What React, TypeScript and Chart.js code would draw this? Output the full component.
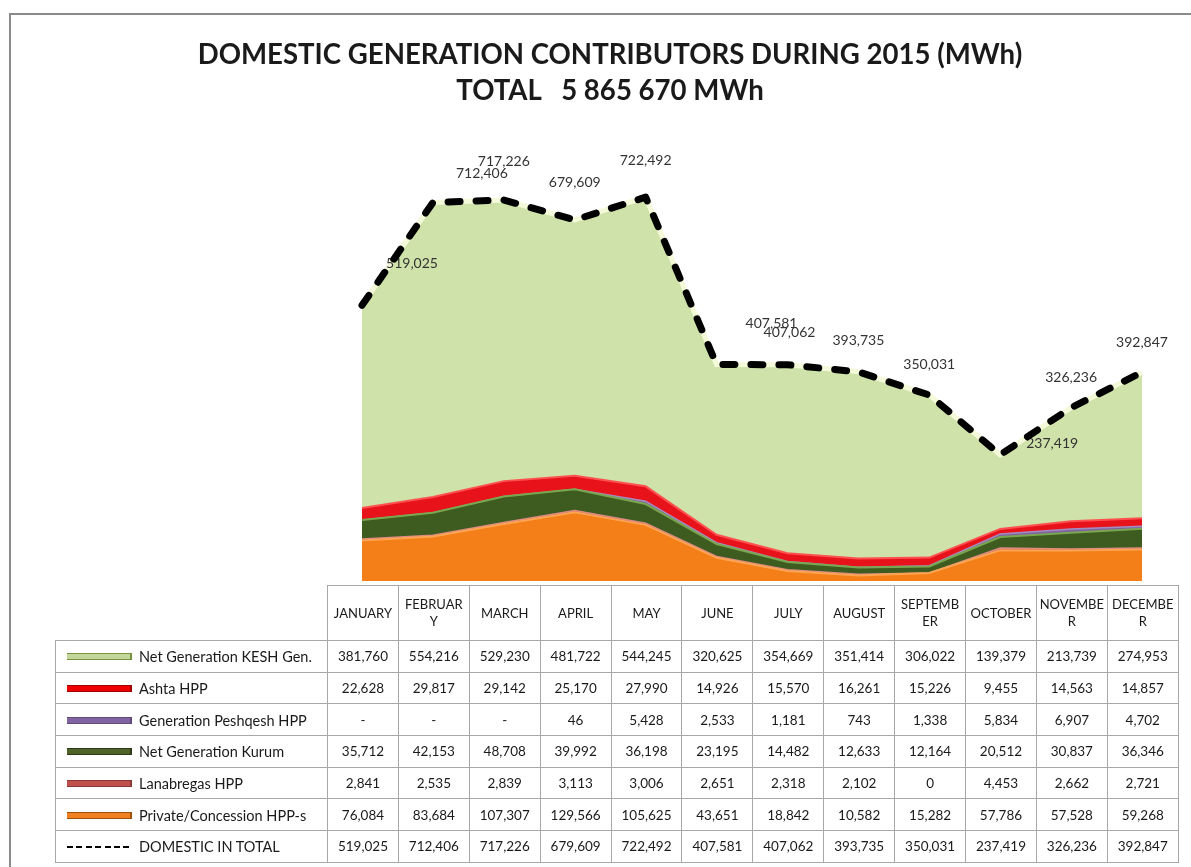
import React, { useEffect, useRef } from "react";
import { Chart, registerables } from "chart.js";
Chart.register(...registerables);

const months = ["JANUARY", "FEBRUARY", "MARCH", "APRIL", "MAY", "JUNE", "JULY", "AUGUST", "SEPTEMBER", "OCTOBER", "NOVEMBER", "DECEMBER"];
const keshGen = [381760, 554216, 529230, 481722, 544245, 320625, 354669, 351414, 306022, 139379, 213739, 274953];
const ashtaHpp = [22628, 29817, 29142, 25170, 27990, 14926, 15570, 16261, 15226, 9455, 14563, 14857];
const peshqeshHpp: (number | null)[] = [null, null, null, 46, 5428, 2533, 1181, 743, 1338, 5834, 6907, 4702];
const kurumGen = [35712, 42153, 48708, 39992, 36198, 23195, 14482, 12633, 12164, 20512, 30837, 36346];
const lanabregasHpp = [2841, 2535, 2839, 3113, 3006, 2651, 2318, 2102, 0, 4453, 2662, 2721];
const privateHpp = [76084, 83684, 107307, 129566, 105625, 43651, 18842, 10582, 15282, 57786, 57528, 59268];
const domesticTotal = [519025, 712406, 717226, 679609, 722492, 407581, 407062, 393735, 350031, 237419, 326236, 392847];

const titleLine1 = "DOMESTIC GENERATION CONTRIBUTORS DURING 2015 (MWh)";
const titleLine2 = "TOTAL   5 865 670 MWh";

// label offsets relative to the plotted point (style only)
const LABEL_SHIFT: [number, number][] = [
  [50, -42], [49, -29], [0, -38], [0, -37], [0, -37], [55, -41],
  [2, -32], [0, -31], [0, -31], [52, -11], [0, -30], [0, -30],
];

const fmt = (v: number | null) => (v === null ? "-" : v.toLocaleString("en-US"));

type KeyStyle = { bg: string; edge: string; dashed?: boolean };
const tableRows: { name: string; values: (number | null)[]; key: KeyStyle }[] = [
  { name: "Net Generation KESH Gen.", values: keshGen, key: { bg: "#c3d69b", edge: "#76923c" } },
  { name: "Ashta HPP", values: ashtaHpp, key: { bg: "#ee0000", edge: "#a00000" } },
  { name: "Generation Peshqesh HPP", values: peshqeshHpp, key: { bg: "#8064a2", edge: "#5f4a7a" } },
  { name: "Net Generation Kurum", values: kurumGen, key: { bg: "#4f6228", edge: "#2f3b18" } },
  { name: "Lanabregas HPP", values: lanabregasHpp, key: { bg: "#c0504d", edge: "#8e3835" } },
  { name: "Private/Concession HPP-s", values: privateHpp, key: { bg: "#f08020", edge: "#a0520a" } },
  { name: "DOMESTIC IN TOTAL", values: domesticTotal, key: { bg: "#000", edge: "#000", dashed: true } },
];

const splitHeader = (m: string) => (m.length > 7 ? [m.slice(0, 7), m.slice(7)] : [m]);

const W = 1191;
const H = 867;
const COL_W = 70.9;
const LABEL_W = 272;
const GRID = "1px solid #a8a8a8";

export default function App() {
  const ref = useRef<HTMLCanvasElement>(null);

  useEffect(() => {
    if (!ref.current) return;
    const labelPlugin = {
      id: "totalLabels",
      afterDatasetDraw(chart: any, args: any) {
        if (args.index !== 1) return;
        const meta = chart.getDatasetMeta(0);
        const ctx = chart.ctx as CanvasRenderingContext2D;
        ctx.save();
        ctx.font = "14px Lato";
        ctx.fillStyle = "#333333";
        ctx.textAlign = "center";
        ctx.textBaseline = "middle";
        meta.data.forEach((pt: any, i: number) => {
          const [dx, dy] = LABEL_SHIFT[i];
          ctx.fillText(fmt(domesticTotal[i]), pt.x + dx, pt.y + dy);
        });
        ctx.restore();
      },
    };

    const area = (label: string, data: number[], bg: string, border: string, bw: number, fill: any) => ({
      label,
      data,
      backgroundColor: bg,
      borderColor: border,
      borderWidth: bw,
      fill,
      pointRadius: 0,
      tension: 0,
      stack: "gen",
    });

    const chart = new Chart(ref.current, {
      type: "line",
      data: {
        labels: months,
        datasets: [
          {
            label: "DOMESTIC IN TOTAL",
            data: domesticTotal,
            borderColor: "#000000",
            borderWidth: 7,
            borderDash: [12, 16],
            borderCapStyle: "round",
            borderJoinStyle: "round",
            fill: false,
            pointRadius: 0,
            tension: 0,
            stack: "total",
            clip: false,
          } as any,
          area("Private/Concession HPP-s", privateHpp, "#f47e17", "#fba552", 2, "origin"),
          area("Lanabregas HPP", lanabregasHpp, "#c0504d", "#e08a86", 1.5, "-1"),
          area("Net Generation Kurum", kurumGen, "#3e5c20", "#7aa64e", 2, "-1"),
          area("Generation Peshqesh HPP", peshqeshHpp.map((v) => v ?? 0), "#8064a2", "#a38dc0", 1.5, "-1"),
          area("Ashta HPP", ashtaHpp, "#e8121a", "#ff5050", 2, "-1"),
          area("Net Generation KESH Gen.", keshGen, "#cfe2a9", "#f3f9d9", 5, "-1"),
        ],
      },
      options: {
        responsive: false,
        animation: false,
        devicePixelRatio: 1,
        layout: { padding: { left: 362, right: W - 1142, top: 156, bottom: H - 581 } },
        plugins: {
          legend: { display: false },
          title: { display: false },
          tooltip: { enabled: false },
        },
        scales: {
          x: { display: false },
          y: { display: false, stacked: true, min: 0, max: 800000 },
        },
      },
      plugins: [labelPlugin],
    });
    return () => chart.destroy();
  }, []);

  const cellBase: React.CSSProperties = {
    border: GRID,
    textAlign: "center",
    verticalAlign: "middle",
    padding: 0,
    fontSize: 13.5,
    color: "#1a1a1a",
  };

  return (
    <div style={{ position: "fixed", left: 0, top: 0, width: W, height: H, overflow: "hidden", background: "#fff", fontFamily: "Lato, sans-serif" }}>
      <div style={{ position: "absolute", left: 9, top: 13, width: 1300, height: 1000, borderTop: "2px solid #8a8a8a", borderLeft: "2px solid #8a8a8a" }} />
      <canvas ref={ref} width={W} height={H} style={{ position: "absolute", left: 0, top: 0, width: W, height: H }} />
      <div style={{ position: "absolute", left: 0, top: 36, width: 1220, textAlign: "center", fontWeight: 700, fontSize: 27.6, lineHeight: "36px", color: "#1a1a1a", whiteSpace: "pre" }}>
        <div>{titleLine1}</div>
        <div>{titleLine2}</div>
      </div>
      <table
        style={{
          position: "absolute",
          left: 55,
          top: 585,
          borderCollapse: "collapse",
          tableLayout: "fixed",
          width: LABEL_W + COL_W * 12,
          background: "transparent",
        }}
      >
        <colgroup>
          <col style={{ width: LABEL_W }} />
          {months.map((m) => (
            <col key={m} style={{ width: COL_W }} />
          ))}
        </colgroup>
        <tbody>
          <tr style={{ height: 55 }}>
            <td style={{ border: "none", borderRight: GRID, borderBottom: GRID }} />
            {months.map((m) => (
              <td key={m} style={{ ...cellBase, fontSize: 13, lineHeight: "17px", background: "#fff" }}>
                {splitHeader(m).map((p, i) => (
                  <div key={i}>{p}</div>
                ))}
              </td>
            ))}
          </tr>
          {tableRows.map((r) => (
            <tr key={r.name} style={{ height: 31.7 }}>
              <td style={{ ...cellBase, textAlign: "left", whiteSpace: "nowrap" }}>
                {r.key.dashed ? (
                  <span
                    style={{
                      display: "inline-block",
                      verticalAlign: "middle",
                      width: 65,
                      height: 2,
                      marginLeft: 11,
                      marginRight: 7,
                      background: "repeating-linear-gradient(90deg, #000 0 6px, transparent 6px 9.4px)",
                    }}
                  />
                ) : (
                  <span
                    style={{
                      display: "inline-block",
                      verticalAlign: "middle",
                      width: 63,
                      height: 5,
                      marginLeft: 11,
                      marginRight: 7,
                      background: r.key.bg,
                      borderTop: `1px solid ${r.key.edge}`,
                      borderBottom: `1px solid ${r.key.edge}`,
                      borderRight: `2px solid ${r.key.edge}`,
                    }}
                  />
                )}
                <span style={{ verticalAlign: "middle", fontSize: 14.5 }}>{r.name}</span>
              </td>
              {r.values.map((v, i) => (
                <td key={i} style={cellBase}>
                  {fmt(v)}
                </td>
              ))}
            </tr>
          ))}
        </tbody>
      </table>
    </div>
  );
}
